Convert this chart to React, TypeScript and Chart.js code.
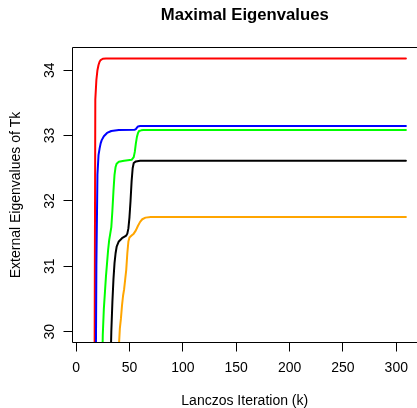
import { useEffect, useRef } from "react";
import { Chart, registerables } from "chart.js";

Chart.register(...registerables);

const chartTitle = "Maximal Eigenvalues";
const xTitle = "Lanczos Iteration (k)";
const yTitle = "External Eigenvalues of Tk";
const xTicks = [0, 50, 100, 150, 200, 250, 300];
const yTicks = [30, 31, 32, 33, 34];

const redK = [17, 18, 19, 20, 21, 22, 23, 25, 28, 309];
const redVal = [27.5, 33.55, 33.85, 34.0, 34.08, 34.13, 34.155, 34.175, 34.18, 34.18];

const blueK = [18, 19, 20, 21, 22, 23, 24, 26, 29, 33, 40, 55, 56, 57, 58, 60, 309];
const blueVal = [28.0, 31.0, 32.4, 32.7, 32.8, 32.88, 32.93, 32.99, 33.04, 33.07, 33.085, 33.09, 33.1, 33.12, 33.14, 33.146, 33.146];

const greenK = [24, 25, 26, 27, 28, 29, 30, 31, 32, 33, 34, 35, 36, 37, 38, 40, 45, 52, 54, 55, 56, 57, 58, 59, 61, 63, 309];
const greenVal = [29.0, 29.95, 30.35, 30.6, 30.85, 31.05, 31.25, 31.4, 31.5, 31.6, 31.85, 32.15, 32.4, 32.52, 32.57, 32.6, 32.615, 32.63, 32.67, 32.75, 32.88, 32.98, 33.04, 33.07, 33.08, 33.085, 33.085];

const blackK = [32, 33, 34, 35, 36, 37, 38, 40, 43, 47, 48, 49, 50, 51, 52, 53, 54, 56, 60, 309];
const blackVal = [29.3, 30.0, 30.45, 30.8, 31.05, 31.2, 31.3, 31.38, 31.43, 31.47, 31.5, 31.58, 31.75, 32.0, 32.3, 32.5, 32.58, 32.605, 32.616, 32.616];

const orangeK = [40, 41, 42, 43, 44, 45, 46, 47, 48, 49, 50, 52, 54, 56, 58, 60, 62, 65, 70, 309];
const orangeVal = [29.75, 30.05, 30.2, 30.4, 30.55, 30.65, 30.8, 30.95, 31.2, 31.38, 31.44, 31.47, 31.5, 31.55, 31.62, 31.68, 31.72, 31.745, 31.755, 31.755];

const FONT = "'Liberation Sans', Arial, Helvetica, sans-serif";

function pts(ks: number[], vs: number[]) {
  return ks.map((k, i) => ({ x: k, y: vs[i] }));
}

const boxPlugin = {
  id: "rbox",
  afterDatasetsDraw(chart: any) {
    const { ctx, chartArea } = chart;
    ctx.save();
    ctx.strokeStyle = "#000";
    ctx.lineWidth = 1;
    ctx.beginPath();
    ctx.rect(chartArea.left, chartArea.top, chartArea.right - chartArea.left + 5, chartArea.bottom - chartArea.top);
    ctx.stroke();
    ctx.restore();
  },
};

export default function App() {
  const ref = useRef<HTMLCanvasElement | null>(null);
  useEffect(() => {
    if (!ref.current) return;
    const mk = (label: string, ks: number[], vs: number[], color: string, order: number) => ({
      label,
      data: pts(ks, vs),
      borderColor: color,
      backgroundColor: color,
      borderWidth: 2,
      pointRadius: 0,
      tension: 0,
      fill: false,
      borderCapStyle: "round",
      borderJoinStyle: "round",
      order,
    });
    const chart = new Chart(ref.current, {
      type: "line",
      data: {
        datasets: [
          mk("1", redK, redVal, "#FF0000", 5),
          mk("2", blueK, blueVal, "#0000FF", 4),
          mk("3", greenK, greenVal, "#00FF00", 3),
          mk("4", blackK, blackVal, "#000000", 2),
          mk("5", orangeK, orangeVal, "#FFA500", 1),
        ] as any,
      },
      options: {
        animation: false,
        responsive: false,
        maintainAspectRatio: false,
        layout: { padding: 0 },
        plugins: {
          legend: { display: false },
          tooltip: { enabled: false },
          title: {
            display: true,
            text: chartTitle,
            fullSize: false,
            color: "#000",
            font: { family: FONT, size: 16.7, weight: "bold", lineHeight: 1.2 },
            padding: { top: 4.98, bottom: 22.48 },
          },
        },
        scales: {
          x: {
            type: "linear",
            min: -3.37,
            max: 319.4,
            afterBuildTicks: (s: any) => {
              s.ticks = xTicks.map((v) => ({ value: v }));
            },
            afterFit: (s: any) => {
              s.height = 65.5;
            },
            grid: { drawOnChartArea: false, drawTicks: true, tickLength: 9, tickColor: "#000", tickWidth: 1 },
            border: { display: false },
            ticks: {
              padding: 8.4,
              color: "#000",
              autoSkip: false,
              maxRotation: 0,
              minRotation: 0,
              font: { family: FONT, size: 14, lineHeight: 1.2 },
              callback: (v: any) => String(v),
            },
            title: {
              display: true,
              text: xTitle,
              color: "#000",
              font: { family: FONT, size: 14, lineHeight: 1 },
              padding: { top: 0, bottom: 0 },
            },
          },
          y: {
            type: "linear",
            min: 29.835,
            max: 34.347,
            afterBuildTicks: (s: any) => {
              s.ticks = yTicks.map((v) => ({ value: v }));
            },
            afterFit: (s: any) => {
              s.width = 72.5;
            },
            grid: { drawOnChartArea: false, drawTicks: true, tickLength: 9, tickColor: "#000", tickWidth: 1 },
            border: { display: false },
            ticks: {
              padding: 5.7,
              crossAlign: "center",
              minRotation: 90,
              maxRotation: 90,
              color: "#000",
              autoSkip: false,
              font: { family: FONT, size: 14, lineHeight: 1.2 },
              callback: (v: any) => String(v),
            },
            title: {
              display: true,
              text: yTitle,
              color: "#000",
              font: { family: FONT, size: 14, lineHeight: 1.2 },
              padding: { top: 7.8, bottom: 0 },
            },
          },
        },
      } as any,
      plugins: [boxPlugin],
    });
    return () => chart.destroy();
  }, []);
  return (
    <div style={{ position: "fixed", left: 0, top: 0, width: 417, height: 408, background: "#fff" }}>
      <canvas ref={ref} width={417} height={408} style={{ display: "block", width: 417, height: 408 }} />
    </div>
  );
}
